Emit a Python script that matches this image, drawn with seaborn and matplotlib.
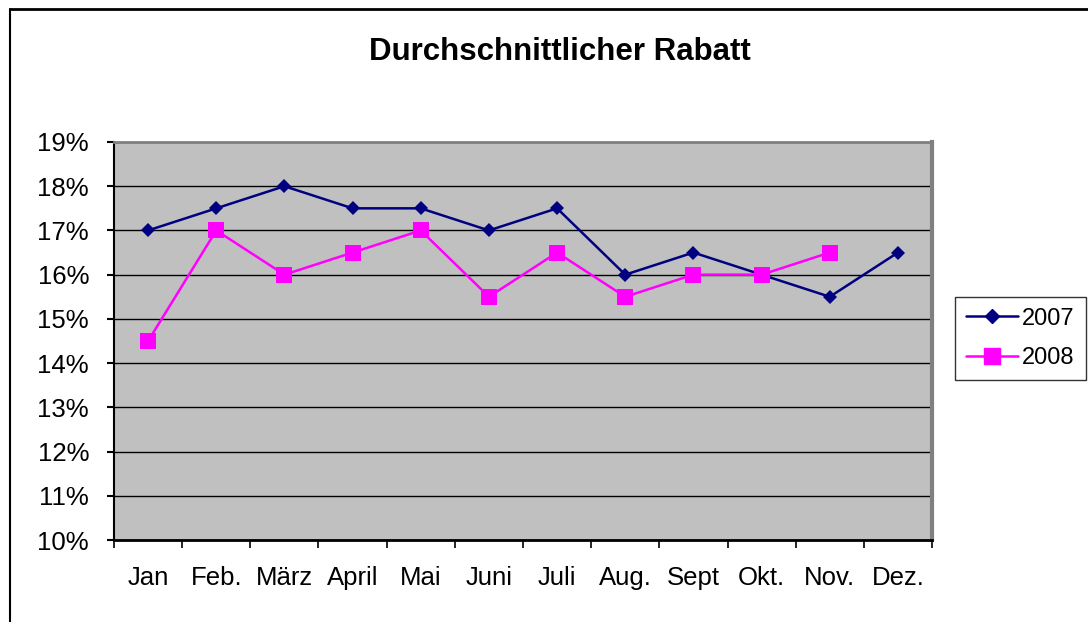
import matplotlib
matplotlib.use('Agg')
import matplotlib.pyplot as plt
from matplotlib.lines import Line2D
from matplotlib.ticker import FuncFormatter, FixedLocator
import seaborn as sns
import pandas as pd
import numpy as np

months = ['Jan', 'Feb.', 'März', 'April', 'Mai', 'Juni', 'Juli', 'Aug.', 'Sept', 'Okt.', 'Nov.', 'Dez.']
rabatt_2007 = [17, 17.5, 18, 17.5, 17.5, 17, 17.5, 16, 16.5, 16, 15.5, 16.5]
rabatt_2008 = [14.5, 17, 16, 16.5, 17, 15.5, 16.5, 15.5, 16, 16, 16.5, np.nan]

df = pd.DataFrame({
    'Monat': list(range(len(months))) * 2,
    'Rabatt': rabatt_2007 + rabatt_2008,
    'Jahr': ['2007'] * len(months) + ['2008'] * len(months),
})

sns.set_theme(style='white')
plt.rcParams['font.family'] = ['Liberation Sans', 'DejaVu Sans']
plt.rcParams['text.color'] = 'black'

fig = plt.figure(figsize=(10.88, 6.22), dpi=100)
ax = fig.add_axes([114/1088, 1 - 540/622, (932-114)/1088, (540-142)/622])
ax.set_facecolor('#c0c0c0')

sns.lineplot(data=df, x='Monat', y='Rabatt', hue='Jahr', style='Jahr',
             palette={'2007': '#000080', '2008': '#ff00ff'},
             markers={'2007': 'D', '2008': 's'}, dashes=False,
             linewidth=1.8, markeredgewidth=0, ax=ax, legend=False)
for ln in ax.lines:
    if ln.get_marker() == 's':
        ln.set_markersize(11)
    else:
        ln.set_markersize(7)

ax.set_xlim(-0.5, 11.5)
ax.set_ylim(10, 19)
ax.set_yticks(range(10, 20))
ax.yaxis.set_major_formatter(FuncFormatter(lambda v, p: f'{int(v)}%'))
ax.grid(axis='y', color='black', linewidth=1)
ax.set_axisbelow(True)

ax.set_xticks(range(len(months)))
ax.set_xticklabels(months)
ax.xaxis.set_minor_locator(FixedLocator(np.arange(-0.5, 12, 1)))
ax.tick_params(axis='x', which='major', length=0, pad=19, labelsize=18.5, colors='black')
ax.tick_params(axis='x', which='minor', length=6, width=1.2, direction='out', color='black', bottom=True)
ax.tick_params(axis='y', length=5, width=1.5, direction='out', pad=13, labelsize=18.5, colors='black', left=True)
ax.set_xlabel('')
ax.set_ylabel('')

ax.spines['left'].set_color('black')
ax.spines['left'].set_linewidth(1.5)
ax.spines['bottom'].set_color('black')
ax.spines['bottom'].set_linewidth(2)
ax.spines['top'].set_color('#808080')
ax.spines['top'].set_linewidth(2)
ax.spines['right'].set_color('#808080')
ax.spines['right'].set_linewidth(3)

handles = [
    Line2D([], [], color='#000080', marker='D', markersize=7, linewidth=1.8, label='2007'),
    Line2D([], [], color='#ff00ff', marker='s', markersize=11, linewidth=1.8, label='2008'),
]
leg = fig.legend(handles=handles, loc='upper left', bbox_to_anchor=(955/1088, 1 - 297/622),
                 fontsize=17, frameon=True, fancybox=False, edgecolor='black',
                 handlelength=2.2, borderpad=0.45, labelspacing=0.75, handletextpad=0.2,
                 borderaxespad=0)
leg.get_frame().set_linewidth(1)

fig.text(560/1088, 1 - 52/622, 'Durchschnittlicher Rabatt', ha='center', va='center',
         fontsize=22.5, fontweight='bold', color='black')

# chart frame (left and top edges visible)
fig.add_artist(Line2D([9.5/1088, 9.5/1088], [0, 1 - 8.5/622], color='black', linewidth=1.5,
                      transform=fig.transFigure))
fig.add_artist(Line2D([9.5/1088, 1], [1 - 8.5/622, 1 - 8.5/622], color='black', linewidth=2,
                      transform=fig.transFigure))

fig.savefig('out.png', dpi=100)
